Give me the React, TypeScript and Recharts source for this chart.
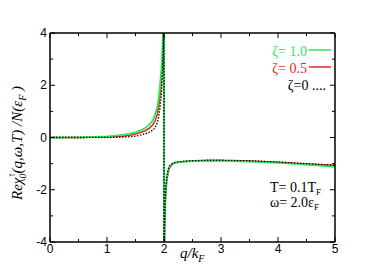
import React from 'react';
import { ComposedChart, Line, XAxis, YAxis } from 'recharts';

// q/k_F grid (two entries at q = 2 carry the jump across the singularity)
const qValues = [
  0, 0.25, 0.5, 0.75, 1.0, 1.15, 1.3, 1.4, 1.5, 1.6, 1.67, 1.75, 1.8, 1.84, 1.88, 1.9, 1.925, 1.95, 1.965, 1.975, 1.985, 1.992, 2.0,
  2.0, 2.005, 2.01, 2.02, 2.03, 2.05, 2.08, 2.1, 2.15, 2.2, 2.3, 2.5, 2.75, 3.0, 3.5, 4.0, 4.5, 5.0,
];
// zeta = 1.0 (green)
const zeta10 = [
  0, 0.002, 0.008, 0.02, 0.045, 0.07, 0.11, 0.15, 0.2, 0.28, 0.36, 0.5, 0.64, 0.85, 1.15, 1.4, 1.85, 2.5, 3.0, 3.5, 4.3, 5.2, 8,
  -8, -4.5, -3.4, -2.5, -2.0, -1.5, -1.2, -1.1, -1.0, -0.96, -0.93, -0.9, -0.89, -0.89, -0.92, -0.97, -1.04, -1.12,
];
// zeta = 0.5 (red)
const zeta05 = [
  0, 0.001, 0.004, 0.01, 0.02, 0.035, 0.06, 0.09, 0.13, 0.2, 0.26, 0.37, 0.48, 0.62, 0.88, 1.1, 1.5, 2.1, 2.6, 3.1, 3.9, 4.8, 8,
  -8, -4.8, -3.7, -2.7, -2.2, -1.62, -1.28, -1.15, -1.02, -0.97, -0.93, -0.9, -0.88, -0.88, -0.9, -0.95, -1.01, -1.07,
];
// zeta = 0 (black dotted)
const zeta00 = [
  0, 0, 0, 0.002, 0.005, 0.01, 0.02, 0.03, 0.05, 0.1, 0.14, 0.21, 0.28, 0.36, 0.55, 0.72, 1.05, 1.55, 2.0, 2.5, 3.3, 4.2, 8,
  -8, -4.5, -3.4, -2.5, -2.0, -1.48, -1.18, -1.08, -0.99, -0.95, -0.92, -0.89, -0.87, -0.87, -0.89, -0.94, -1.0, -1.06,
];

const xTicks = [0, 0.5, 1, 1.5, 2, 2.5, 3, 3.5, 4, 4.5, 5];
const yTicks = [-4, -3, -2, -1, 0, 1, 2, 3, 4];

const data = qValues.map((q, i) => ({ q, g: zeta10[i], r: zeta05[i], k: zeta00[i] }));

const GREEN = '#22ee55';
const RED = '#ee2222';
const SANS = '"Liberation Sans", Arial, sans-serif';
const SERIF = '"Liberation Serif", "Times New Roman", serif';

const isMajorX = (v: number) => Number.isInteger(v);
const isMajorY = (v: number) => v % 2 === 0;

const BottomTick = (props: any) => {
  const { x, y, payload } = props;
  const major = isMajorX(payload.value);
  return (
    <g>
      <line x1={x} y1={y} x2={x} y2={y - (major ? 5 : 3)} stroke="#000" strokeWidth={1} />
      {major && (
        <text x={x} y={y + 11} textAnchor="middle" fontFamily={SANS} fontSize={12} fill="#000">
          {payload.value}
        </text>
      )}
    </g>
  );
};

const TopTick = (props: any) => {
  const { x, y, payload } = props;
  const major = isMajorX(payload.value);
  return <line x1={x} y1={y} x2={x} y2={y + (major ? 5 : 3)} stroke="#000" strokeWidth={1} />;
};

const LeftTick = (props: any) => {
  const { x, y, payload } = props;
  const major = isMajorY(payload.value);
  return (
    <g>
      <line x1={x} y1={y} x2={x + (major ? 5 : 3)} y2={y} stroke="#000" strokeWidth={1} />
      {major && (
        <text x={x - 3} y={y + 4} textAnchor="end" fontFamily={SANS} fontSize={12} fill="#000">
          {payload.value}
        </text>
      )}
    </g>
  );
};

const RightTick = (props: any) => {
  const { x, y, payload } = props;
  const major = isMajorY(payload.value);
  return <line x1={x} y1={y} x2={x - (major ? 5 : 3)} y2={y} stroke="#000" strokeWidth={1} />;
};

const axisLineStyle = { stroke: '#000', strokeWidth: 1.5 };

export default function App() {
  return (
    <div style={{ position: 'absolute', left: 0, top: 0 }}>
      <ComposedChart width={381} height={273} data={data} margin={{ top: 32, right: 45, bottom: 0, left: 0 }}>
        <XAxis
          xAxisId={0}
          dataKey="q"
          type="number"
          domain={[0, 5]}
          ticks={xTicks}
          interval={0}
          height={31}
          tickSize={0}
          tickMargin={0}
          tickLine={false}
          tick={BottomTick}
          stroke="#000"
          axisLine={axisLineStyle}
          allowDataOverflow
        />
        <XAxis
          xAxisId="top"
          orientation="top"
          dataKey="q"
          type="number"
          domain={[0, 5]}
          ticks={xTicks}
          interval={0}
          height={1}
          tickSize={0}
          tickMargin={0}
          tickLine={false}
          tick={TopTick}
          stroke="#000"
          axisLine={axisLineStyle}
          allowDataOverflow
        />
        <YAxis
          yAxisId={0}
          type="number"
          domain={[-4, 4]}
          ticks={yTicks}
          interval={0}
          width={50}
          tickSize={0}
          tickMargin={0}
          tickLine={false}
          tick={LeftTick}
          stroke="#000"
          axisLine={axisLineStyle}
          allowDataOverflow
        />
        <YAxis
          yAxisId="right"
          orientation="right"
          type="number"
          domain={[-4, 4]}
          ticks={yTicks}
          interval={0}
          width={1}
          tickSize={0}
          tickMargin={0}
          tickLine={false}
          tick={RightTick}
          stroke="#000"
          axisLine={axisLineStyle}
          allowDataOverflow
        />
        <Line dataKey="r" type="linear" stroke={RED} strokeWidth={1.5} dot={false} isAnimationActive={false} />
        <Line dataKey="g" type="linear" stroke={GREEN} strokeWidth={1.8} dot={false} isAnimationActive={false} />
        <Line dataKey="k" type="linear" stroke="#000" strokeWidth={1.3} strokeDasharray="1.5 1.5" dot={false} isAnimationActive={false} />

        {/* legend */}
        <text x={307} y={56} textAnchor="end" fontFamily={SERIF} fontSize={14} fill={GREEN}>ζ= 1.0</text>
        <line x1={309} y1={50} x2={331} y2={50} stroke={GREEN} strokeWidth={1.5} />
        <text x={307} y={73} textAnchor="end" fontFamily={SERIF} fontSize={14} fill={RED}>ζ= 0.5</text>
        <line x1={309} y1={67} x2={331} y2={67} stroke={RED} strokeWidth={1.5} />
        <text x={326} y={90} textAnchor="end" fontFamily={SERIF} fontSize={14} fill="#000">ζ=0 ....</text>

        {/* parameters */}
        <text x={270} y={192} fontFamily={SERIF} fontSize={14} fill="#000">
          T= 0.1T<tspan fontSize={9} dy={3}>F</tspan>
        </text>
        <text x={270} y={207} fontFamily={SERIF} fontSize={14} fill="#000">
          ω= 2.0ε<tspan fontSize={9} dy={3}>F</tspan>
        </text>

        {/* x label */}
        <text x={180} y={258} fontFamily={SERIF} fontStyle="italic" fontSize={15} fill="#000">
          q/k<tspan fontSize={10} dy={4}>F</tspan>
        </text>

        {/* y label */}
        <text
          x={22}
          y={143}
          transform="rotate(-90 22 143)"
          textAnchor="middle"
          fontFamily={SERIF}
          fontStyle="italic"
          fontSize={15}
          fill="#000"
        >
          Reχ<tspan fontSize={10} dy={-7}>↑</tspan>
          <tspan fontSize={10} dx={-6} dy={11}>0</tspan>
          <tspan dy={-4}>(q,ω,T) /N(ε</tspan>
          <tspan fontSize={10} dy={4}>F</tspan>
          <tspan dy={-4}> )</tspan>
        </text>
      </ComposedChart>
    </div>
  );
}
